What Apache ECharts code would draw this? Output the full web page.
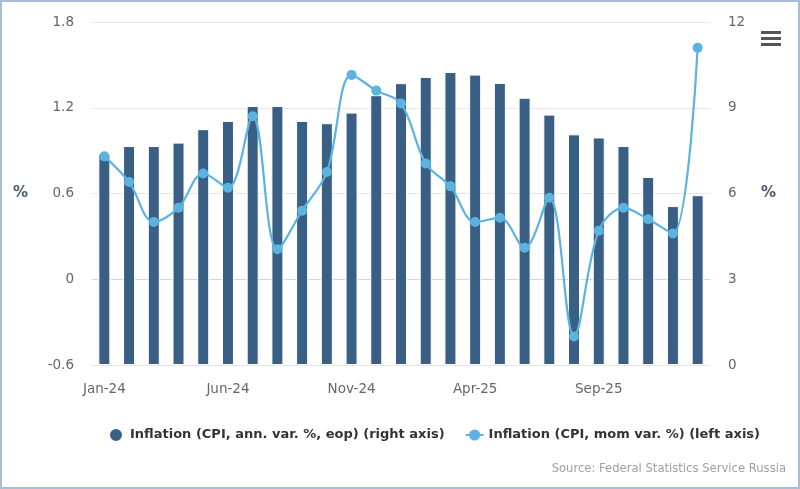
<!DOCTYPE html>
<html>
<head>
<meta charset="utf-8">
<script src="https://cdn.jsdelivr.net/npm/echarts@6/dist/echarts.min.js"></script>
<style>
html,body{margin:0;padding:0;background:#fff;}
#frame{position:absolute;left:0;top:0;width:796px;height:485px;border:2px solid #a7bdd6;}
#c{width:796px;height:485px;}
</style>
</head>
<body>
<div id="frame"><div id="c"></div></div>
<script>
const categories = ['Jan-24','Feb-24','Mar-24','Apr-24','May-24','Jun-24','Jul-24','Aug-24','Sep-24','Oct-24','Nov-24','Dec-24',
  'Jan-25','Feb-25','Mar-25','Apr-25','May-25','Jun-25','Jul-25','Aug-25','Sep-25','Oct-25','Nov-25','Dec-25','Jan-26'];
const annualCPI = [7.38, 7.66, 7.66, 7.78, 8.25, 8.54, 9.06, 9.06, 8.54, 8.46, 8.83, 9.44,
  9.86, 10.08, 10.25, 10.16, 9.87, 9.35, 8.76, 8.07, 7.96, 7.66, 6.58, 5.56, 5.94];
const momCPI = [0.86, 0.68, 0.40, 0.50, 0.74, 0.64, 1.14, 0.21, 0.48, 0.75, 1.43, 1.32,
  1.23, 0.81, 0.65, 0.40, 0.43, 0.22, 0.57, -0.40, 0.34, 0.50, 0.42, 0.32, 1.62];
const leftTicks = {min: -0.6, max: 1.8, interval: 0.6};
const rightTicks = {min: 0, max: 12, interval: 3};

const FONT = '"DejaVu Sans", sans-serif';
const chart = echarts.init(document.getElementById('c'), null, {renderer: 'canvas'});
chart.setOption({
  animation: false,
  textStyle: {fontFamily: FONT},
  grid: {left: 90, right: 88, top: 20, bottom: 122},
  legend: {
    top: 420, left: 101,
    itemGap: 20,
    textStyle: {fontSize: 13, fontWeight: 'bold', color: '#333', fontFamily: FONT},
    data: [
      {name: 'Inflation (CPI, ann. var. %, eop) (right axis)', icon: 'circle', itemStyle: {color: '#3a5f85'}},
      {name: 'Inflation (CPI, mom var. %) (left axis)'}
    ],
    itemWidth: 18, itemHeight: 14
  },
  graphic: [{
    type: 'text', right: 12, top: 461,
    style: {text: 'Source: Federal Statistics Service Russia', fill: '#a0a0a0', font: '11.6px ' + FONT}
  }, {
    type: 'group', right: 17, top: 29,
    children: [
      {type: 'rect', shape: {x: 0, y: 0, width: 20, height: 3}, style: {fill: '#555'}},
      {type: 'rect', shape: {x: 0, y: 6, width: 20, height: 3}, style: {fill: '#555'}},
      {type: 'rect', shape: {x: 0, y: 12, width: 20, height: 3}, style: {fill: '#555'}}
    ]
  }],
  xAxis: {
    type: 'category', data: categories, boundaryGap: true,
    axisLine: {lineStyle: {color: '#ccd6eb'}},
    axisTick: {show: false},
    axisLabel: {interval: 4, color: '#666', fontSize: 13.5, margin: 17, fontFamily: FONT}
  },
  yAxis: [{
    type: 'value', position: 'left', min: leftTicks.min, max: leftTicks.max, interval: leftTicks.interval,
    name: '%', nameLocation: 'middle', nameRotate: 0, nameGap: 64,
    nameTextStyle: {color: '#4a5a70', fontSize: 15, fontWeight: 'bold', fontFamily: FONT},
    axisLabel: {color: '#666', fontSize: 13.5, margin: 18, formatter: v => (Math.round(v*10)/10).toString()},
    splitLine: {lineStyle: {color: '#e6e6e6'}},
    axisLine: {show: false}, axisTick: {show: false}
  }, {
    type: 'value', position: 'right', min: rightTicks.min, max: rightTicks.max, interval: rightTicks.interval,
    name: '%', nameLocation: 'middle', nameRotate: 0, nameGap: 51,
    nameTextStyle: {color: '#4a5a70', fontSize: 15, fontWeight: 'bold', fontFamily: FONT},
    axisLabel: {color: '#666', fontSize: 13.5, margin: 18},
    splitLine: {show: false},
    axisLine: {show: false}, axisTick: {show: false}
  }],
  series: [{
    name: 'Inflation (CPI, ann. var. %, eop) (right axis)',
    type: 'bar', yAxisIndex: 1, data: annualCPI, barWidth: 12,
    itemStyle: {color: '#3a5f85', borderColor: '#fff', borderWidth: 1},
    z: 2
  }, {
    name: 'Inflation (CPI, mom var. %) (left axis)',
    type: 'line', yAxisIndex: 0, data: momCPI, smooth: 0.35,
    symbol: 'circle', symbolSize: 10,
    lineStyle: {color: '#5ab3e0', width: 2.2},
    itemStyle: {color: '#5ab3e0'},
    z: 3
  }]
});
</script>
</body>
</html>
